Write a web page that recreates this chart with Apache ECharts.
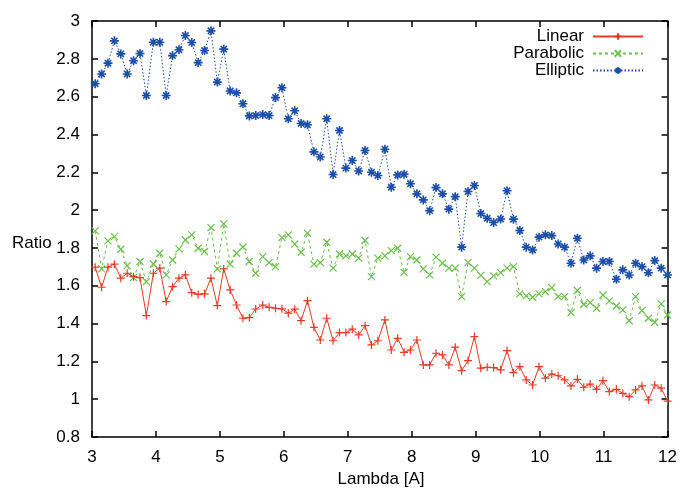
<!DOCTYPE html>
<html>
<head>
<meta charset="utf-8">
<script src="https://cdn.jsdelivr.net/npm/echarts@6/dist/echarts.min.js"></script>
<style>
html,body{margin:0;padding:0;background:#fff;}
#chart{width:680px;height:491px;}
</style>
</head>
<body>
<div id="chart"></div>
<script>
// ---- data ----
var lambda = [3.05,3.15,3.25,3.35,3.45,3.55,3.65,3.75,3.85,3.96,
4.06,4.16,4.26,4.36,4.46,4.56,4.66,4.76,4.86,4.96,
5.06,5.16,5.26,5.36,5.46,5.56,5.67,5.77,5.87,5.97,
6.07,6.17,6.27,6.37,6.47,6.57,6.67,6.77,6.87,6.97,
7.07,7.17,7.27,7.37,7.47,7.58,7.68,7.78,7.88,7.98,
8.08,8.18,8.28,8.38,8.48,8.58,8.68,8.78,8.88,8.98,
9.08,9.18,9.28,9.39,9.49,9.59,9.69,9.79,9.89,9.99,
10.09,10.19,10.29,10.39,10.49,10.59,10.69,10.79,10.89,10.99,
11.09,11.20,11.30,11.40,11.50,11.60,11.70,11.80,11.90,12.00];

var linear = [1.698,1.592,1.698,1.714,1.64,1.666,1.648,1.643,1.442,1.666,
1.693,1.516,1.595,1.64,1.657,1.563,1.554,1.557,1.64,1.495,
1.689,1.578,1.498,1.428,1.431,1.477,1.498,1.486,1.481,1.478,
1.455,1.476,1.415,1.521,1.38,1.313,1.428,1.309,1.352,1.352,
1.37,1.34,1.389,1.287,1.309,1.419,1.26,1.322,1.248,1.26,
1.313,1.181,1.181,1.243,1.234,1.181,1.275,1.151,1.204,1.331,
1.164,1.169,1.167,1.155,1.257,1.14,1.172,1.102,1.075,1.172,
1.111,1.133,1.124,1.102,1.07,1.105,1.063,1.08,1.052,1.098,
1.04,1.052,1.031,1.013,1.049,1.07,0.996,1.075,1.058,0.99];

var parabolic = [1.89,1.689,1.837,1.86,1.793,1.706,1.643,1.728,1.622,1.715,
1.772,1.657,1.736,1.795,1.842,1.869,1.798,1.781,1.907,1.689,
1.927,1.714,1.772,1.805,1.728,1.666,1.754,1.722,1.701,1.854,
1.869,1.82,1.777,1.878,1.714,1.722,1.83,1.693,1.768,1.758,
1.768,1.746,1.839,1.648,1.746,1.758,1.786,1.798,1.671,1.754,
1.736,1.689,1.657,1.751,1.719,1.693,1.693,1.542,1.722,1.693,
1.655,1.622,1.652,1.669,1.693,1.701,1.557,1.546,1.539,1.557,
1.569,1.59,1.542,1.542,1.458,1.575,1.502,1.511,1.481,1.551,
1.52,1.493,1.472,1.415,1.542,1.468,1.428,1.407,1.504,1.445];

var elliptic = [2.668,2.72,2.777,2.895,2.826,2.72,2.79,2.828,2.606,2.888,
2.888,2.606,2.817,2.848,2.923,2.886,2.78,2.844,2.948,2.677,
2.851,2.63,2.62,2.562,2.498,2.50,2.505,2.50,2.595,2.647,
2.483,2.525,2.458,2.451,2.308,2.281,2.483,2.188,2.421,2.222,
2.262,2.207,2.315,2.2,2.183,2.322,2.121,2.186,2.19,2.139,
2.086,2.054,1.997,2.119,2.086,2.005,2.071,1.804,2.098,2.13,
1.982,1.957,1.934,1.953,2.102,1.952,1.892,1.804,1.789,1.857,
1.869,1.865,1.821,1.804,1.719,1.851,1.736,1.758,1.693,1.728,
1.728,1.634,1.684,1.657,1.719,1.701,1.669,1.733,1.693,1.657];

var seriesNames = ['Linear','Parabolic','Elliptic'];
var xTitle = 'Lambda [A]';
var yTitle = 'Ratio';

// ---- build ----
function pairs(ys){ return ys.map(function(v,i){ return [lambda[i], v]; }); }

var FONT = 'Liberation Sans';
var colors = ['#e23c26','#6abf4b','#1c4fa8'];
var symbols = [
  'path://M0,5L10,5M5,0L5,10',
  'path://M0,0L10,10M0,10L10,0',
  'path://M0,5L10,5M5,0L5,10M1.5,1.5L8.5,8.5M1.5,8.5L8.5,1.5'
];
var lineTypes = ['solid',[3,3],[1.5,2]];
var symSizes = [8,7,9];
var borderWs = [1.2,1.2,1.6];
var dataSets = [linear, parabolic, elliptic];

var axisLine = {show:true, lineStyle:{color:'#000', width:1.5}};
var axisTick = {show:true, inside:true, length:6, lineStyle:{color:'#000', width:1.5}};

var option = {
  backgroundColor:'#fff',
  animation:false,
  grid:{left:92, right:12, top:21, bottom:54},
  legend:{
    orient:'vertical', right:31, top:23, align:'right',
    itemWidth:50, itemHeight:8, itemGap:0,
    textStyle:{fontFamily:FONT, fontSize:17, lineHeight:15, color:'#000', padding:[0,4,0,0]},
    data:seriesNames
  },
  xAxis:[
    {type:'value', min:3, max:12, interval:1, position:'bottom',
     axisLine:axisLine, axisTick:axisTick, splitLine:{show:false},
     axisLabel:{fontFamily:FONT, fontSize:17, color:'#000', margin:12}},
    {type:'value', min:3, max:12, interval:1, position:'top',
     axisLine:axisLine, axisTick:axisTick, splitLine:{show:false},
     axisLabel:{show:false}}
  ],
  yAxis:[
    {type:'value', min:0.8, max:3, interval:0.2, position:'left',
     axisLine:axisLine, axisTick:axisTick, splitLine:{show:false},
     axisLabel:{fontFamily:FONT, fontSize:17, color:'#000', margin:12}},
    {type:'value', min:0.8, max:3, interval:0.2, position:'right',
     axisLine:axisLine, axisTick:axisTick, splitLine:{show:false},
     axisLabel:{show:false}}
  ],
  graphic:[
    {type:'text', x:12, y:243, style:{text:yTitle, font:'17px "Liberation Sans"', fill:'#000',
      textVerticalAlign:'middle', verticalAlign:'middle'}},
    {type:'text', x:381, y:479, style:{text:xTitle, font:'17px "Liberation Sans"', fill:'#000',
      textAlign:'center', align:'center', textVerticalAlign:'middle', verticalAlign:'middle'}}
  ],
  series: seriesNames.map(function(n,k){
    return {
      name:n, type:'line', xAxisIndex:0, yAxisIndex:0,
      data:pairs(dataSets[k]),
      symbol:symbols[k], symbolSize:symSizes[k],
      lineStyle:{color:colors[k], width:1, type:lineTypes[k]},
      itemStyle:{color:colors[k], borderColor:colors[k], borderWidth:borderWs[k]},
      emphasis:{disabled:true},
      z: 3-k
    };
  })
};

var chart = echarts.init(document.getElementById('chart'), null, {renderer:'canvas'});
chart.setOption(option);
</script>
</body>
</html>
